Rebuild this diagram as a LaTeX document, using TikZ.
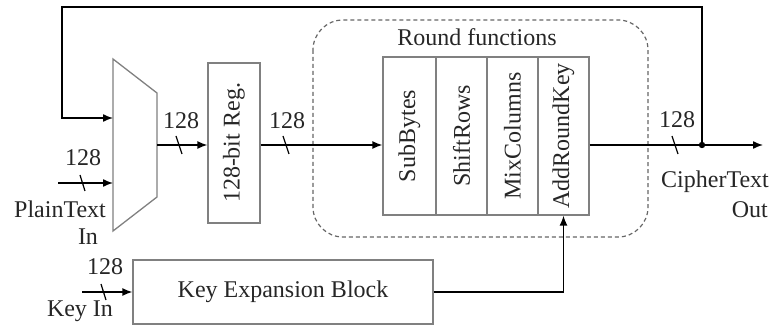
\documentclass[tikz,border=0pt]{standalone}
\usepackage{fontspec}
\setmainfont{Liberation Serif}
\usetikzlibrary{arrows.meta,calc}
\begin{document}
\begin{tikzpicture}[x=1pt,y=-1pt,
  every node/.style={font=\fontsize{24}{27}\selectfont, text=black!85, inner sep=0pt},
  gbox/.style={draw=black!50, line width=1.3pt, rectangle},
  conn/.style={draw=black, line width=1.4pt},
  arr/.style={conn, -{Latex[length=10pt,width=8pt]}},
  slash/.style={draw=black, line width=1.2pt}]
\useasboundingbox (0,0) rectangle (772,326);
% dashed round-functions region
\draw[black!60, line width=1.2pt, dash pattern=on 4pt off 3pt, rounded corners=30pt] (313,20) rectangle (648,237);
\node (rftitle) at (477,37) {Round functions};
% mux
\coordinate (muxA) at (113,118);
\coordinate (muxB) at (113,183);
\coordinate (muxout) at (157,145);
\draw[black!50, line width=1.3pt] (113,59) -- (157,93) -- (157,197) -- (113,231) -- cycle;
% register
\node[gbox, minimum width=52pt, minimum height=160pt] (reg) at (234,143) {};
\node[rotate=90] (regtxt) at (reg.center) {128-bit Reg.};
% round function boxes
\node[gbox, minimum width=53pt, minimum height=158pt] (sub) at (409.5,136) {};
\node[gbox, minimum width=51pt, minimum height=158pt] (shift) at (461.5,136) {};
\node[gbox, minimum width=51pt, minimum height=158pt] (mix) at (512.5,136) {};
\node[gbox, minimum width=51pt, minimum height=158pt] (ark) at (563.5,136) {};
\node[rotate=90] (subt) at (sub.center) {SubBytes};
\node[rotate=90] (shiftt) at (shift.center) {ShiftRows};
\node[rotate=90] (mixt) at (mix.center) {MixColumns};
\node[rotate=90] (arkt) at (ark.center) {AddRoundKey};
% key expansion
\node[gbox, minimum width=300pt, minimum height=64pt] (kexp) at (283,292) {Key Expansion Block};
% inputs / outputs
\coordinate (pin) at (58,183);
\coordinate (kin) at (82,292);
\coordinate (dot) at (702,145);
\coordinate (out) at (763,145);
\coordinate (fbL) at (62,7);
% connectors
\draw[arr] (pin) -- (muxB);
\draw[arr] (muxout) -- (muxout -| reg.west);
\draw[arr] (reg.east |- muxout) -- (muxout -| sub.west);
\draw[arr] (ark.east |- dot) -- (out);
\draw[arr] (dot) |- (fbL) |- (muxA);
\fill (dot) circle (3.2pt);
\draw[arr] (kin) -- (kexp.west);
\draw[arr] (kexp.east) -| (ark.south);
% bus slashes
\draw[slash] (80,175) -- (85,191);
\draw[slash] (176,136) -- (182,154);
\draw[slash] (283,136) -- (289,154);
\draw[slash] (672,136) -- (678,154);
\draw[slash] (101,284) -- (106,300);
% labels
\node (l1) at (83,158) {128};
\node (l2) at (181,121) {128};
\node (l3) at (287,121) {128};
\node (l4) at (677,120) {128};
\node (l5) at (105,267) {128};
\node (pt1) at (60,209) {PlainText};
\node (pt2) at (88,237) {In};
\node[anchor=east] (ct1) at (769,182) {CipherText};
\node[anchor=east] (ct2) at (768,210) {Out};
\node (ki) at (80,311) {Key In};
\end{tikzpicture}
\end{document}
